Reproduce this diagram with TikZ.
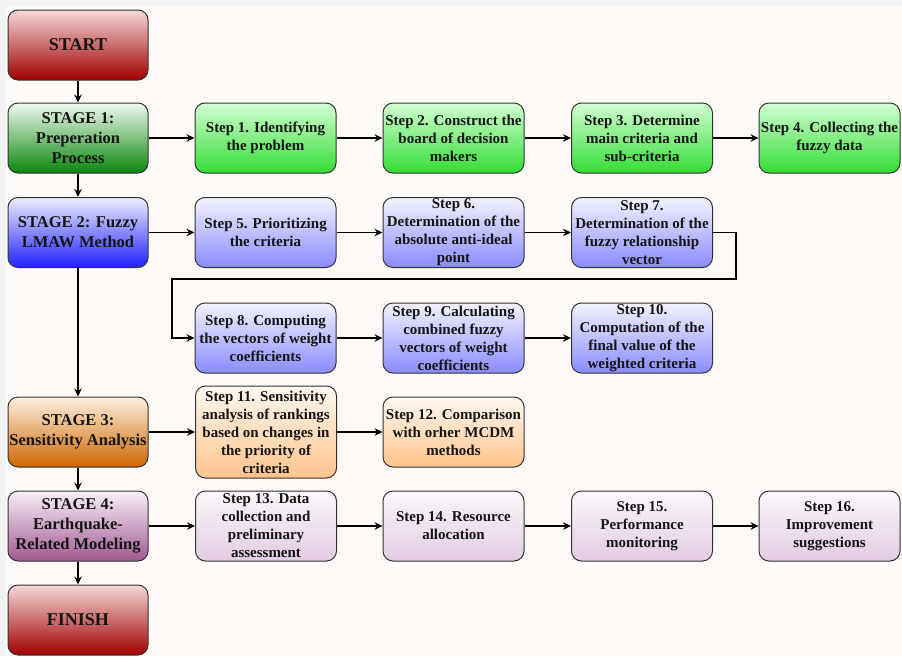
\documentclass[tikz,border=0pt]{standalone}
\usepackage{fontspec}
\setmainfont{Liberation Serif}
\usetikzlibrary{arrows.meta,positioning}
\definecolor{bgout}{HTML}{F2F2F2}
\definecolor{bgin}{HTML}{FCF9F6}
\definecolor{edgec}{HTML}{333333}
\definecolor{txt}{HTML}{151515}
\definecolor{redT}{HTML}{F5D8D8}\definecolor{redB}{HTML}{A00000}
\definecolor{sgT}{HTML}{F0FAF0}\definecolor{sgB}{HTML}{0A860A}
\definecolor{gT}{HTML}{D2FFD2}\definecolor{gB}{HTML}{33DD33}
\definecolor{sbT}{HTML}{EEEEFF}\definecolor{sbB}{HTML}{2020FF}
\definecolor{bT}{HTML}{F3F3FF}\definecolor{bB}{HTML}{8A8AFF}
\definecolor{soT}{HTML}{FFF0E0}\definecolor{soB}{HTML}{CC6600}
\definecolor{oT}{HTML}{FFF8F0}\definecolor{oB}{HTML}{FFC48C}
\definecolor{spT}{HTML}{F8F0F8}\definecolor{spB}{HTML}{A05890}
\definecolor{pT}{HTML}{FBF7FB}\definecolor{pB}{HTML}{E2CCE2}
\tikzset{
  box/.style={draw=edgec, line width=1pt, rounded corners=10pt, align=center,
    inner sep=0pt, text=txt, font=\bfseries},
  stepbox/.style={box, minimum width=141pt, minimum height=70pt,
    font=\bfseries\fontsize{15}{18}\selectfont},
  stagebox/.style={box, minimum width=140pt, minimum height=70pt,
    font=\bfseries\fontsize{16.5}{20}\selectfont},
  endbox/.style={box, minimum width=140pt, minimum height=70pt,
    font=\bfseries\fontsize{18}{21}\selectfont, top color=redT, bottom color=redB},
  grn/.style={top color=gT, bottom color=gB},
  blu/.style={top color=bT, bottom color=bB},
  org/.style={top color=oT, bottom color=oB},
  ppl/.style={top color=pT, bottom color=pB},
  arr/.style={draw=black, line width=1.1pt, -{Stealth[length=8pt,width=7.5pt]}},
}
\begin{document}
\begin{tikzpicture}[x=1pt,y=-1pt]
\useasboundingbox (0,0) rectangle (902,656);
\fill[bgout] (0,0) rectangle (902,656);
\fill[bgin] (6,6) rectangle (902,656);
% left column
\node[endbox] (start) at (78,45) {START};
\node[stagebox, top color=sgT, bottom color=sgB] (s1) at (78,138) {STAGE 1:\\Preperation\\Process};
\node[stagebox, top color=sbT, bottom color=sbB] (s2) at (78,232.5) {STAGE 2: Fuzzy\\LMAW Method};
\node[stagebox, top color=soT, bottom color=soB] (s3) at (78,432) {STAGE 3:\\Sensitivity Analysis};
\node[stagebox, top color=spT, bottom color=spB] (s4) at (78,526) {STAGE 4:\\Earthquake-\\Related Modeling};
\node[endbox] (finish) at (78,620) {FINISH};
% row 1
\node[stepbox, grn] (p1) at (265.5,138) {Step 1. Identifying\\the problem};
\node[stepbox, grn] (p2) at (453.5,138) {Step 2. Construct the\\board of decision\\makers};
\node[stepbox, grn] (p3) at (642,138) {Step 3. Determine\\main criteria and\\sub-criteria};
\node[stepbox, grn] (p4) at (829.5,138) {Step 4. Collecting the\\fuzzy data};
% row 2
\node[stepbox, blu] (p5) at (265.5,232.5) {Step 5. Prioritizing\\the criteria};
\node[stepbox, blu] (p6) at (453.5,232.5) {Step 6.\\Determination of the\\absolute anti-ideal\\point};
\node[stepbox, blu] (p7) at (642,232.5) {Step 7.\\Determination of the\\fuzzy relationship\\vector};
% row 3
\node[stepbox, blu] (p8) at (265.5,338) {Step 8. Computing\\the vectors of weight\\coefficients};
\node[stepbox, blu] (p9) at (453.5,338) {Step 9. Calculating\\combined fuzzy\\vectors of weight\\coefficients};
\node[stepbox, blu] (p10) at (642,338) {Step 10.\\Computation of the\\final value of the\\weighted criteria};
% row 4
\node[stepbox, org, minimum height=92pt] (p11) at (266,432) {Step 11. Sensitivity\\analysis of rankings\\based on changes in\\the priority of\\criteria};
\node[stepbox, org] (p12) at (453.5,432) {Step 12. Comparison\\with orher MCDM\\methods};
% row 5
\node[stepbox, ppl] (p13) at (266,526) {Step 13. Data\\collection and\\preliminary\\assessment};
\node[stepbox, ppl] (p14) at (453.5,526) {Step 14. Resource\\allocation};
\node[stepbox, ppl] (p15) at (642,526) {Step 15.\\Performance\\monitoring};
\node[stepbox, ppl] (p16) at (829.5,526) {Step 16.\\Improvement\\suggestions};
% vertical arrows
\draw[arr] (start) -- (s1);
\draw[arr] (s1) -- (s2);
\draw[arr] (s2) -- (s3);
\draw[arr] (s3) -- (s4);
\draw[arr] (s4) -- (finish);
% horizontal arrows
\draw[arr] (s1) -- (p1);
\draw[arr] (p1) -- (p2);
\draw[arr] (p2) -- (p3);
\draw[arr] (p3) -- (p4);
\draw[arr] (s2) -- (p5);
\draw[arr] (p5) -- (p6);
\draw[arr] (p6) -- (p7);
\coordinate (c1) at (736,232.5);
\coordinate (c2) at (736,279);
\coordinate (c3) at (172,279);
\coordinate (c4) at (172,338);
\draw[arr] (p7.east) -- (c1) -- (c2) -- (c3) -- (c4) -- (p8.west);
\draw[arr] (p8) -- (p9);
\draw[arr] (p9) -- (p10);
\draw[arr] (s3) -- (p11);
\draw[arr] (p11) -- (p12);
\draw[arr] (s4) -- (p13);
\draw[arr] (p13) -- (p14);
\draw[arr] (p14) -- (p15);
\draw[arr] (p15) -- (p16);
\end{tikzpicture}
\end{document}
